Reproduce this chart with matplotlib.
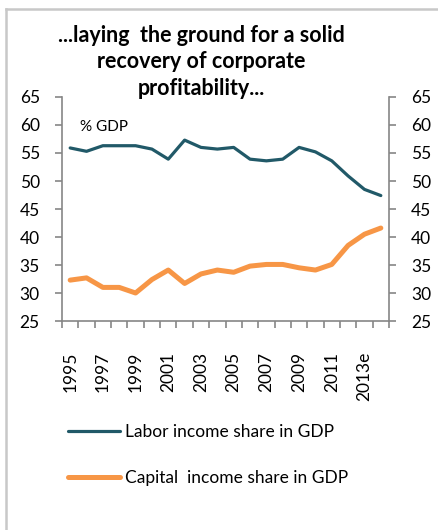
import numpy as np
import matplotlib
matplotlib.use('Agg')
import matplotlib.pyplot as plt
from matplotlib.lines import Line2D

plt.rcParams['font.family'] = ['Lato', 'DejaVu Sans']

years = ['1995', '1996', '1997', '1998', '1999', '2000', '2001', '2002', '2003', '2004',
         '2005', '2006', '2007', '2008', '2009', '2010', '2011', '2012', '2013e', '2014f']
labor = [55.9, 55.3, 56.3, 56.3, 56.3, 55.7, 53.9, 57.3, 56.0, 55.7,
         56.0, 53.9, 53.6, 53.9, 56.0, 55.2, 53.6, 50.9, 48.5, 47.4]
capital = [32.3, 32.7, 31.0, 31.0, 30.0, 32.4, 34.1, 31.7, 33.4, 34.1,
           33.7, 34.8, 35.1, 35.1, 34.5, 34.1, 35.1, 38.5, 40.5, 41.6]

W, H = 439, 530
fig = plt.figure(figsize=(W / 100, H / 100), dpi=100)
ax = fig.add_axes([62 / W, 1 - 321 / H, (389 - 62) / W, (321 - 97) / H])

x = np.arange(len(years))
ax.plot(x, labor, color='#215968', lw=2.3, solid_capstyle='round', label='Labor income share in GDP')
ax.plot(x, capital, color='#F79646', lw=3.6, solid_capstyle='round', label='Capital  income share in GDP')

axis_col = '#868686'
ax.set_xlim(-0.5, len(years) - 0.5)
ax.set_ylim(25, 65)
ax.set_yticks(np.arange(25, 66, 5))
ax.set_xticks(x[::2])
ax.set_xticklabels(years[::2], rotation=90)
ax.set_xticks(np.arange(-0.5, len(years), 1), minor=True)
ax.tick_params(axis='x', which='major', length=0, pad=22, labelsize=12.5)
ax.tick_params(axis='x', which='minor', length=5, color=axis_col, width=1.2, direction='out')
ax.tick_params(axis='y', length=5, color=axis_col, width=1.2, direction='out', labelsize=12.5, pad=11)
for side in ['top', 'right']:
    ax.spines[side].set_visible(False)
for side in ['left', 'bottom']:
    ax.spines[side].set_color(axis_col)
    ax.spines[side].set_linewidth(1.2)

ax2 = ax.twinx()
ax2.set_ylim(25, 65)
ax2.set_yticks(np.arange(25, 66, 5))
ax2.tick_params(axis='y', length=5, color=axis_col, width=1.2, direction='out', labelsize=12.5, pad=11)
for side in ['top', 'left', 'bottom']:
    ax2.spines[side].set_visible(False)
ax2.spines['right'].set_color(axis_col)
ax2.spines['right'].set_linewidth(1.2)

ax.text(0.6, 59.6, '% GDP', fontsize=11, ha='left', va='center')

fig.text(201 / W, 1 - 62 / H, '...laying  the ground for a solid\nrecovery of corporate\nprofitability...',
         ha='center', va='center', fontsize=15.5, fontweight='bold', linespacing=1.32)

fig.legend(loc='upper left', bbox_to_anchor=(52 / W, 1 - 408 / H), frameon=False,
           fontsize=12.5, handlelength=3.0, handletextpad=0.3, labelspacing=1.75)

# light grey frame round the chart
fig.add_artist(Line2D([6 / W, 6 / W], [0, 1 - 9 / H], color='#c8c8c8', lw=1.8, transform=fig.transFigure))
fig.add_artist(Line2D([6 / W, 1], [1 - 9 / H, 1 - 9 / H], color='#c8c8c8', lw=1.8, transform=fig.transFigure))

plt.savefig('out.png', dpi=100)
plt.close()
